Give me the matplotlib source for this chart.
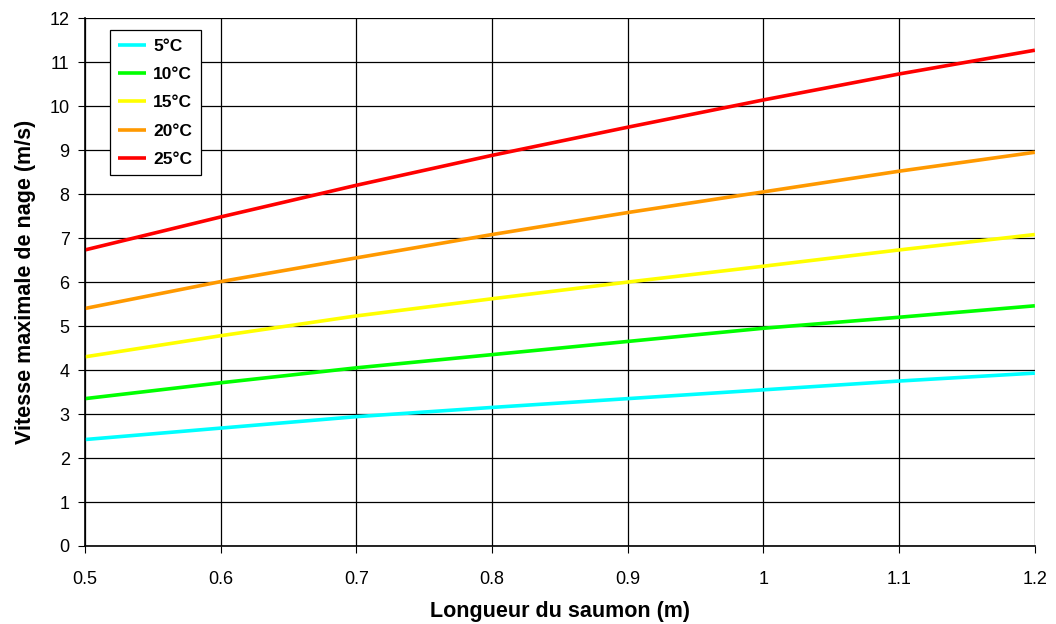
import matplotlib
matplotlib.use("Agg")
import matplotlib.pyplot as plt

# longueur du saumon (m)
longueur = [0.5, 0.6, 0.7, 0.8, 0.9, 1.0, 1.1, 1.2]

# vitesse maximale de nage (m/s) par temperature
v_5 = [2.42, 2.68, 2.94, 3.15, 3.35, 3.55, 3.75, 3.93]
v_10 = [3.35, 3.71, 4.05, 4.35, 4.65, 4.95, 5.20, 5.46]
v_15 = [4.30, 4.78, 5.23, 5.62, 6.00, 6.36, 6.73, 7.08]
v_20 = [5.40, 6.01, 6.55, 7.08, 7.58, 8.05, 8.52, 8.95]
v_25 = [6.73, 7.48, 8.20, 8.88, 9.52, 10.14, 10.73, 11.27]

labels = ["5°C", "10°C", "15°C", "20°C", "25°C"]
colors = ["#00ffff", "#00ff00", "#ffff00", "#ff9900", "#ff0000"]

plt.rcParams['font.family'] = ['Liberation Sans', 'DejaVu Sans']

fig = plt.figure(figsize=(10.56, 6.24), dpi=100)
ax = fig.add_axes([0.0805, 0.125, 0.8995, 0.846])

for vals, lab, col in zip([v_5, v_10, v_15, v_20, v_25], labels, colors):
    ax.plot(longueur, vals, color=col, lw=2.6, label=lab, solid_capstyle='butt')

ax.set_xlim(0.5, 1.2)
ax.set_ylim(0, 12)
ax.set_xticks(longueur)
ax.set_xticklabels(["0.5", "0.6", "0.7", "0.8", "0.9", "1", "1.1", "1.2"])
ax.set_yticks(range(0, 13))
ax.grid(True, color='black', lw=0.9)
ax.set_axisbelow(True)
for s in ['top', 'right']:
    ax.spines[s].set_visible(False)
ax.spines['left'].set_linewidth(1.2)
ax.spines['bottom'].set_linewidth(1.2)
ax.tick_params(labelsize=13, direction='out', length=5)
ax.tick_params(axis='x', pad=13)
ax.tick_params(axis='y', pad=6)

ax.set_xlabel("Longueur du saumon (m)", fontsize=15.5, fontweight='bold', labelpad=9)
ax.set_ylabel("Vitesse maximale de nage (m/s)", fontsize=15.5, fontweight='bold', labelpad=10)

leg = ax.legend(loc='upper left', bbox_to_anchor=(0.026, 0.977), frameon=True,
                fancybox=False, edgecolor='black', framealpha=1,
                prop={'weight': 'bold', 'size': 12.5}, handlelength=1.6,
                handletextpad=0.4, labelspacing=0.75, borderpad=0.5,
                borderaxespad=0)
leg.get_frame().set_linewidth(0.9)

fig.savefig("out.png", dpi=100)
